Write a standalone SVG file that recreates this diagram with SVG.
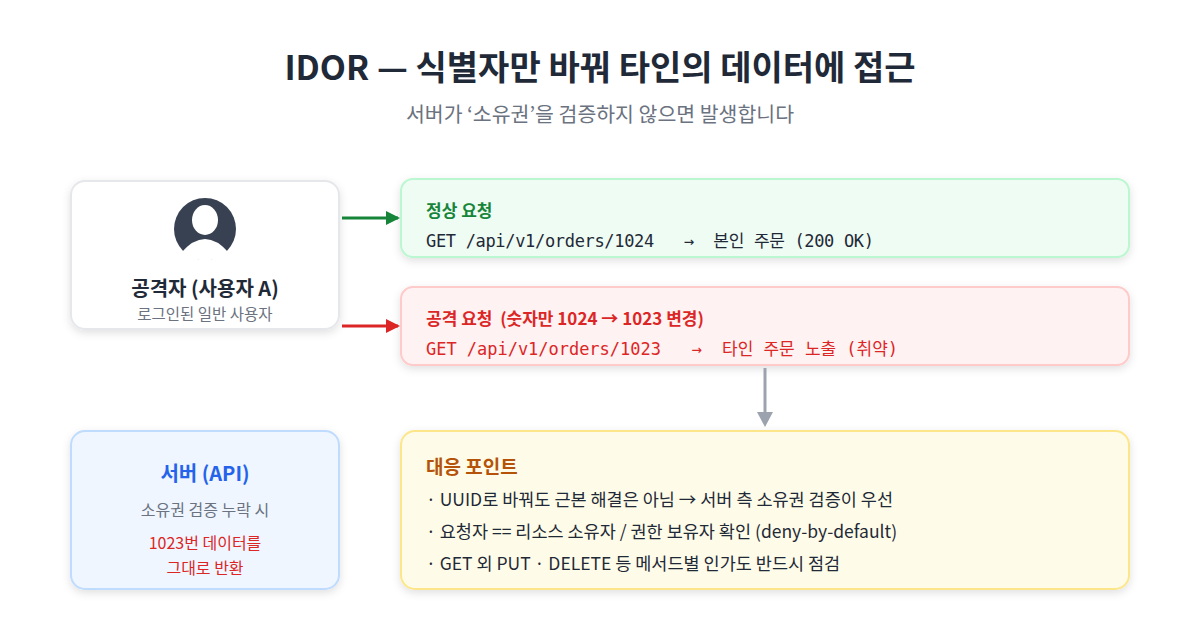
<svg xmlns="http://www.w3.org/2000/svg" width="1200" height="640" viewBox="0 0 1200 640">
<defs>
<style>
text{font-family:"Noto Sans CJK KR","Noto Sans",sans-serif}
.mono{font-family:"DejaVu Sans Mono","Noto Sans CJK KR",monospace;font-size:17px}
.box{stroke-width:2}
</style>
<filter id="sh" x="-10%" y="-10%" width="120%" height="130%"><feDropShadow dx="0" dy="3" stdDeviation="4" flood-color="#000" flood-opacity="0.12"/></filter>
<marker id="ag" markerWidth="14" markerHeight="14" refX="12" refY="7" orient="auto" markerUnits="userSpaceOnUse"><path d="M0,0 L14,7 L0,14 z" fill="#16853a"/></marker>
<marker id="ar" markerWidth="14" markerHeight="14" refX="12" refY="7" orient="auto" markerUnits="userSpaceOnUse"><path d="M0,0 L14,7 L0,14 z" fill="#dc2626"/></marker>
</defs>
<rect width="1200" height="640" fill="#fff"/>
<text x="600" y="80" text-anchor="middle" font-size="34" font-weight="700" fill="#1f2937">IDOR — 식별자만 바꿔 타인의 데이터에 접근</text>
<text x="600" y="122" text-anchor="middle" font-size="20.5" fill="#6b7280">서버가 ‘소유권’을 검증하지 않으면 발생합니다</text>
<g id="attacker">
<rect x="71" y="181" width="268" height="148" rx="14" fill="#fff" stroke="#e5e7eb" class="box" filter="url(#sh)"/>
<circle cx="205" cy="229" r="31" fill="#374151"/>
<ellipse cx="205" cy="220" rx="13" ry="15" fill="#fff"/>
<path d="M181,253 Q205,225 229,253 Q205,268 181,253 Z" fill="#fff"/>
<text x="205" y="296" text-anchor="middle" font-size="20" font-weight="700" fill="#1f2937">공격자 (사용자 A)</text>
<text x="205" y="320" text-anchor="middle" font-size="15.5" fill="#6b7280">로그인된 일반 사용자</text>
</g>
<g id="normal">
<rect x="401" y="179" width="728" height="78" rx="12" fill="#effcf3" stroke="#bbf7d0" class="box" filter="url(#sh)"/>
<text x="426" y="217" font-size="17" font-weight="700" fill="#16853a">정상 요청</text>
<text x="426" y="247" class="mono" fill="#1f2937" textLength="448" xml:space="preserve">GET /api/v1/orders/1024   →  본인 주문 (200 OK)</text>
</g>
<g id="attack">
<rect x="401" y="287" width="728" height="78" rx="12" fill="#fef2f2" stroke="#fecaca" class="box" filter="url(#sh)"/>
<text x="426" y="325" font-size="17" font-weight="700" fill="#dc2626" xml:space="preserve">공격 요청  (숫자만 1024 → 1023 변경)</text>
<text x="426" y="355" class="mono" fill="#dc2626" textLength="472" xml:space="preserve">GET /api/v1/orders/1023   →  타인 주문 노출 (취약)</text>
</g>
<g id="server">
<rect x="71" y="431" width="268" height="158" rx="14" fill="#eff6ff" stroke="#bfdbfe" class="box" filter="url(#sh)"/>
<text x="205" y="481" text-anchor="middle" font-size="20" font-weight="700" fill="#2563eb">서버 (API)</text>
<text x="205" y="516" text-anchor="middle" font-size="16" fill="#6b7280">소유권 검증 누락 시</text>
<text x="205" y="549" text-anchor="middle" font-size="16" fill="#dc2626">1023번 데이터를</text>
<text x="205" y="574" text-anchor="middle" font-size="16" fill="#dc2626">그대로 반환</text>
</g>
<g id="response">
<rect x="401" y="431" width="728" height="158" rx="14" fill="#fefce8" stroke="#fde68a" class="box" filter="url(#sh)"/>
<text x="426" y="474" font-size="19" font-weight="700" fill="#b45309">대응 포인트</text>
<text x="426" y="506" font-size="17.5" fill="#1f2937">·  UUID로 바꿔도 근본 해결은 아님 → 서버 측 소유권 검증이 우선</text>
<text x="426" y="538" font-size="17.5" fill="#1f2937">·  요청자 == 리소스 소유자 / 권한 보유자 확인 (deny-by-default)</text>
<text x="426" y="570" font-size="17.5" fill="#1f2937">·  GET 외 PUT · DELETE 등 메서드별 인가도 반드시 점검</text>
</g>
<g id="connectors">
<line x1="342" y1="218" x2="398" y2="218" stroke="#16853a" stroke-width="3" marker-end="url(#ag)"/>
<line x1="342" y1="326" x2="398" y2="326" stroke="#dc2626" stroke-width="3" marker-end="url(#ar)"/>
<line x1="765" y1="368" x2="765" y2="414" stroke="#9ca3af" stroke-width="3"/>
<path d="M757,412 L773,412 L765,427 Z" fill="#9ca3af"/>
</g>
</svg>
